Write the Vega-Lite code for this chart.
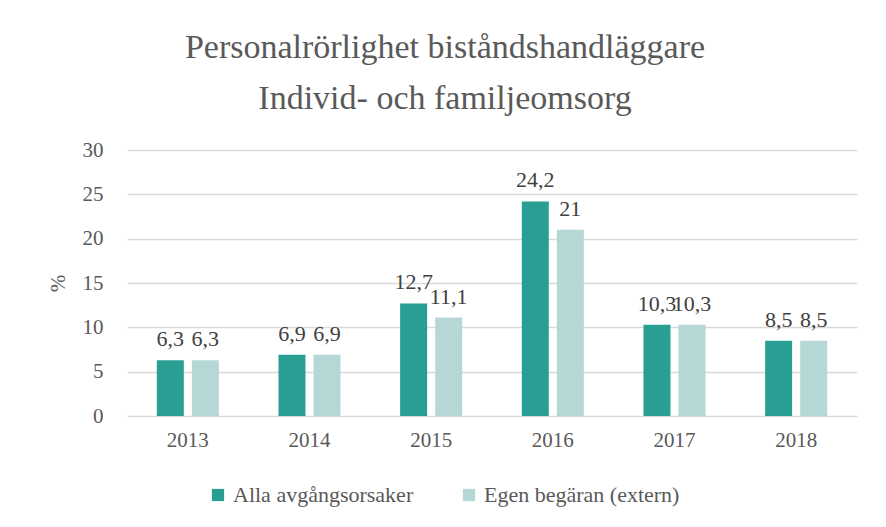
{
  "$schema": "https://vega.github.io/schema/vega-lite/v6.json",
  "width": 730,
  "height": 266,
  "autosize": {"type": "none"},
  "padding": {"left": 127, "top": 150, "right": 29, "bottom": 111},
  "background": "white",
  "config": {
    "font": "Liberation Serif",
    "view": {"stroke": null},
    "locale": {"number": {"decimal": ",", "thousands": " ", "grouping": [3], "currency": ["", " kr"]}}
  },
  "title": {
    "text": ["Personalrörlighet biståndshandläggare", "Individ- och familjeomsorg"],
    "font": "Liberation Serif",
    "fontSize": 34,
    "fontWeight": "normal",
    "color": "#595959",
    "lineHeight": 51,
    "anchor": "middle",
    "dx": -47,
    "offset": 23
  },
  "data": {
    "values": [
      {"year": "2013", "serie": "Alla avgångsorsaker", "value": 6.3},
      {"year": "2013", "serie": "Egen begäran (extern)", "value": 6.3},
      {"year": "2014", "serie": "Alla avgångsorsaker", "value": 6.9},
      {"year": "2014", "serie": "Egen begäran (extern)", "value": 6.9},
      {"year": "2015", "serie": "Alla avgångsorsaker", "value": 12.7},
      {"year": "2015", "serie": "Egen begäran (extern)", "value": 11.1},
      {"year": "2016", "serie": "Alla avgångsorsaker", "value": 24.2},
      {"year": "2016", "serie": "Egen begäran (extern)", "value": 21},
      {"year": "2017", "serie": "Alla avgångsorsaker", "value": 10.3},
      {"year": "2017", "serie": "Egen begäran (extern)", "value": 10.3},
      {"year": "2018", "serie": "Alla avgångsorsaker", "value": 8.5},
      {"year": "2018", "serie": "Egen begäran (extern)", "value": 8.5}
    ]
  },
  "encoding": {
    "x": {
      "field": "year", "type": "nominal",
      "scale": {"paddingInner": 0.49, "paddingOuter": 0.245},
      "axis": {"title": null, "labelAngle": 0, "labelFont": "Liberation Serif", "labelFontSize": 21, "labelColor": "#595959", "domain": false, "ticks": false, "labelPadding": 13}
    },
    "xOffset": {"field": "serie", "type": "nominal", "scale": {"paddingInner": 0.23}},
    "y": {
      "field": "value", "type": "quantitative",
      "scale": {"domain": [0, 30], "nice": false},
      "axis": {"title": "%", "titleFont": "Liberation Serif", "titleFontSize": 21, "titleFontWeight": "normal", "titleColor": "#595959", "titlePadding": 14, "values": [0, 5, 10, 15, 20, 25, 30], "labelFont": "Liberation Serif", "labelFontSize": 21, "labelColor": "#595959", "domain": false, "ticks": false, "labelPadding": 24, "gridColor": "#d9d9d9", "gridWidth": 1.5}
    }
  },
  "layer": [
    {
      "mark": {"type": "bar"},
      "encoding": {
        "color": {
          "field": "serie", "type": "nominal",
          "scale": {"domain": ["Alla avgångsorsaker", "Egen begäran (extern)"], "range": ["#299E93", "#B5D8D6"]},
          "legend": {"title": null, "orient": "none", "legendX": 80, "legendY": 334, "direction": "horizontal", "symbolType": "square", "symbolSize": 150, "symbolStrokeWidth": 0, "labelFont": "Liberation Serif", "labelFontSize": 22, "labelColor": "#595959", "labelLimit": 0, "columnPadding": 44, "labelOffset": 4}
        }
      }
    },
    {
      "mark": {"type": "text", "dy": -21, "fontSize": 22, "font": "Liberation Serif", "color": "#404040"},
      "encoding": {
        "text": {"field": "value", "type": "quantitative", "format": ".1~f"}
      }
    }
  ]
}
